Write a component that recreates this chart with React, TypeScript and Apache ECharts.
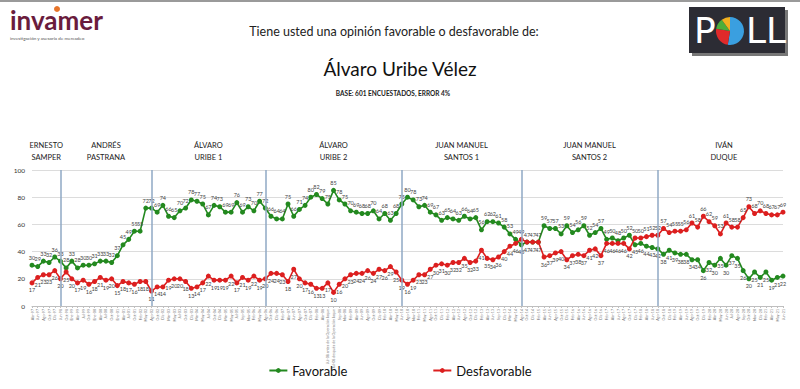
import React, { useEffect, useRef } from 'react';
import * as echarts from 'echarts';

// ---------- DATA ----------
const categories = [
  // Samper
  'Abr-97', 'Jun-97', 'Ago-97', 'Oct-97', 'Dic-97', 'Jun-98',
  // Pastrana
  'Oct-98', 'Ene-99', 'Abr-99', 'Jul-99', 'Oct-99', 'Ene-00', 'Abr-00', 'Jul-00', 'Oct-00', 'Ene-01', 'Abr-01', 'Jul-01', 'Oct-01', 'Feb-02', 'May-02',
  // Uribe 1
  'Ago-02', 'Oct-02', 'Dic-02', 'Mar-03', 'May-03', 'Jul-03', 'Oct-03', 'Dic-03', 'Mar-04', 'May-04', 'Jul-04', 'Oct-04', 'Dic-04', 'Mar-05', 'May-05', 'Jul-05', 'Sep-05', 'Nov-05', 'Feb-06', 'May-06',
  // Uribe 2
  'Ago-06', 'Oct-06', 'Dic-06', 'Feb-07', 'Abr-07', 'Jun-07', 'Ago-07', 'Oct-07', 'Dic-07', 'Feb-08', 'Abr-08',
  'Jul-08 antes de la Operación Jaque', 'Jul-08 después de la Operación Jaque',
  'Sep-08', 'Nov-08', 'Feb-09', 'Abr-09', 'Jun-09', 'Ago-09', 'Oct-09', 'Dic-09', 'Feb-10', 'Abr-10', 'May-10', 'Jun-10',
  // Santos 1
  'Ago-10', 'Nov-10', 'Feb-11', 'May-11', 'Ago-11', 'Oct-11', 'Dic-11', 'Feb-12', 'Abr-12', 'Jun-12', 'Ago-12', 'Oct-12', 'Dic-12', 'Feb-13', 'Abr-13', 'Jun-13', 'Sep-13', 'Dic-13', 'Mar-14', 'May-14',
  // Santos 2
  'Ago-14', 'Oct-14', 'Dic-14', 'Feb-15', 'Abr-15', 'Jun-15', 'Ago-15', 'Oct-15', 'Dic-15', 'Feb-16', 'Abr-16', 'Jun-16', 'Ago-16', 'Oct-16', 'Dic-16', 'Feb-17', 'Abr-17', 'Jun-17', 'Ago-17', 'Oct-17', 'Dic-17', 'Feb-18', 'Abr-18', 'Jun-18',
  // Duque
  'Ago-18', 'Oct-18', 'Dic-18', 'Feb-19', 'Abr-19', 'Jun-19', 'Ago-19', 'Oct-19', 'Dic-19', 'Feb-20', 'Abr-20', 'May-20', 'Jun-20', 'Jul-20', 'Ago-20', 'Sep-20', 'Oct-20', 'Nov-20', 'Dic-20', 'Feb-21', 'Abr-21', 'May-21', 'Jun-21',
];

const favorable = [
  30, 29, 33, 32, 36, 33,
  28, 33, 28, 30, 30, 31, 33, 33, 32, 37, 45, 49, 55, 55, 72,
  72, 69, 74, 66, 65, 70, 72, 78, 77, 75, 67, 74, 73, 69, 69, 76, 69, 73, 70, 77,
  72, 66, 64, 64, 75, 66, 71, 74, 80, 82, 79, 75, 85, 78, 75, 70, 69, 68, 68, 70, 64, 68, 63, 68, 75,
  80, 78, 73, 74, 69, 67, 63, 65, 64, 63, 66, 64, 65, 56, 62, 62, 61, 58, 53, 49,
  45, 47, 47, 47, 59, 57, 57, 53, 59, 54, 56, 59, 52, 54, 57, 49, 50, 48, 50, 52, 45, 46, 44, 43,
  42, 38, 41, 39, 38, 38, 34, 34, 26, 32, 30, 35, 30, 37, 35, 26, 20, 25, 21, 25, 19, 21, 22,
];

const desfavorable = [
  17, 21, 23, 23, 26, 20,
  25, 20, 17, 19, 16, 18, 21, 19, 20, 15, 18, 17, 16, 18, 18,
  11, 14, 14, 19, 20, 20, 18, 13, 14, 17, 22, 19, 19, 19, 22, 17, 21, 19, 22, 19,
  20, 24, 24, 23, 18, 27, 20, 17, 16, 13, 13, 17, 10, 16, 20, 23, 24, 24, 26, 24, 27, 26, 29, 25, 19,
  16, 19, 23, 23, 27, 30, 31, 30, 32, 32, 35, 32, 33, 41, 35, 34, 36, 40, 44, 46,
  49, 47, 47, 47, 36, 37, 39, 40, 34, 37, 38, 37, 41, 42, 37, 46, 46, 46, 46, 42, 50, 50, 51, 52,
  52, 57, 54, 55, 55, 56, 61, 58, 66, 62, 59, 53, 61, 58, 58, 65, 73, 68, 70, 68, 67, 67, 69,
];

const governments = [
  'ERNESTO\nSAMPER',
  'ANDRÉS\nPASTRANA',
  'ÁLVARO\nURIBE 1',
  'ÁLVARO\nURIBE 2',
  'JUAN MANUEL\nSANTOS 1',
  'JUAN MANUEL\nSANTOS 2',
  'IVÁN\nDUQUE',
];

// index of the poll where each government change line is drawn
const separators = [5, 21, 41, 65, 86, 110];

const GREEN = '#23891f';
const RED = '#dc1f1f';
const FONT = 'Lato, "Open Sans", sans-serif';

export default function App() {
  const ref = useRef<HTMLDivElement>(null);

  useEffect(() => {
    const chart = echarts.init(ref.current as HTMLDivElement, null, { renderer: 'svg' });

    const favData = favorable.map((v, i) => ({
      value: v,
      label: { position: v >= desfavorable[i] ? 'top' : 'bottom' },
    }));
    const desData = desfavorable.map((v, i) => ({
      value: v,
      label: { position: v > favorable[i] ? 'top' : 'bottom' },
    }));

    const labelStyle = {
      show: true,
      fontSize: 5.5,
      color: '#444',
      distance: 2,
      fontFamily: FONT,
    };

    chart.setOption({
      animation: false,
      backgroundColor: '#ffffff',
      grid: { left: 32, right: 17, top: 170, bottom: 83, containLabel: false },
      legend: {
        bottom: 7,
        left: 'center',
        itemGap: 85,
        itemWidth: 18,
        itemHeight: 6,
        textStyle: { fontSize: 13, color: '#111', fontFamily: FONT },
        data: ['Favorable', 'Desfavorable'],
      },
      xAxis: {
        type: 'category',
        data: categories,
        boundaryGap: false,
        axisLine: { lineStyle: { color: '#bfbfbf' } },
        axisTick: { show: true, interval: 0, length: 2, lineStyle: { color: '#bfbfbf' } },
        axisLabel: {
          interval: 0,
          rotate: 90,
          fontSize: 3.6,
          color: '#777',
          margin: 3,
          fontFamily: FONT,
        },
      },
      yAxis: {
        type: 'value',
        min: 0,
        max: 100,
        interval: 20,
        axisLine: { show: false },
        axisTick: { show: false },
        axisLabel: { fontSize: 6.5, color: '#333', margin: 7, fontFamily: FONT },
        splitLine: { lineStyle: { color: '#dcdcdc', width: 1 } },
      },
      series: [
        {
          name: 'Favorable',
          type: 'line',
          data: favData,
          color: GREEN,
          symbol: 'circle',
          symbolSize: 5,
          lineStyle: { width: 1.6, color: GREEN },
          itemStyle: { color: GREEN },
          label: labelStyle,
          z: 3,
          markLine: {
            silent: true,
            symbol: 'none',
            label: { show: false },
            lineStyle: { color: '#8fa8c4', width: 1.5, type: 'solid' },
            data: separators.map((s) => ({ xAxis: s })),
          },
        },
        {
          name: 'Desfavorable',
          type: 'line',
          data: desData,
          color: RED,
          symbol: 'circle',
          symbolSize: 5,
          lineStyle: { width: 1.6, color: RED },
          itemStyle: { color: RED },
          label: labelStyle,
          z: 4,
        },
      ],
    });

    // Segment titles centred between the government change lines
    const px = (i: number) => chart.convertToPixel({ xAxisIndex: 0 }, i) as number;
    const edges = [32, ...separators.map(px), 800 - 10];
    const segTitles = governments.map((g, k) => ({
      type: 'text',
      style: {
        text: g,
        x: (edges[k] + edges[k + 1]) / 2,
        y: 151,
        textAlign: 'center',
        textVerticalAlign: 'middle',
        fontSize: 7.5,
        lineHeight: 12,
        fill: '#222',
        fontFamily: FONT,
      },
    }));

    chart.setOption({
      graphic: {
        elements: [
          { type: 'line', shape: { x1: 0, y1: 1, x2: 800, y2: 1 }, style: { stroke: '#9a9a9a', lineWidth: 2 } },
          // invamer logo
          {
            type: 'text',
            style: {
              text: 'invamer',
              x: 10,
              y: 33,
              textVerticalAlign: 'bottom',
              fontSize: 26,
              fontWeight: 'bold',
              fill: '#6a1c3d',
              fontFamily: FONT,
            },
          },
          { type: 'circle', shape: { cx: 57, cy: 9, r: 3 }, style: { fill: '#e8752a' } },
          {
            type: 'text',
            style: {
              text: 'investigación y asesoría de mercadeo',
              x: 10,
              y: 35,
              textVerticalAlign: 'top',
              fontSize: 4.6,
              fill: '#555',
              fontFamily: FONT,
            },
          },
          // POLL logo
          { type: 'rect', shape: { x: 692, y: 10, width: 96, height: 46 }, style: { fill: '#777' } },
          { type: 'rect', shape: { x: 689, y: 7, width: 96, height: 46 }, style: { fill: '#2c2c34' } },
          {
            type: 'text',
            style: { text: 'P', x: 694, y: 30, textVerticalAlign: 'middle', fontSize: 36, fill: '#fff', fontFamily: '"DejaVu Sans", sans-serif' },
          },
          { type: 'sector', shape: { cx: 730, cy: 31, r0: 0, r: 14, startAngle: -Math.PI / 2, endAngle: Math.PI * 0.55 }, style: { fill: '#3a9fe0' } },
          { type: 'sector', shape: { cx: 730, cy: 31, r0: 0, r: 14, startAngle: Math.PI * 0.55, endAngle: Math.PI * 1.05 }, style: { fill: '#e02a2a' } },
          { type: 'sector', shape: { cx: 730, cy: 31, r0: 0, r: 14, startAngle: Math.PI * 1.05, endAngle: Math.PI * 1.3 }, style: { fill: '#4cae3a' } },
          { type: 'sector', shape: { cx: 730, cy: 31, r0: 0, r: 14, startAngle: Math.PI * 1.3, endAngle: Math.PI * 1.5 }, style: { fill: '#f0b020' } },
          {
            type: 'text',
            style: { text: 'LL', x: 746, y: 30, textVerticalAlign: 'middle', fontSize: 36, fill: '#fff', fontFamily: '"DejaVu Sans", sans-serif' },
          },
          // titles
          {
            type: 'text',
            style: {
              text: 'Tiene usted una opinión favorable o desfavorable de:',
              x: 394,
              y: 31,
              textAlign: 'center',
              textVerticalAlign: 'middle',
              fontSize: 12.5,
              fill: '#222',
              fontFamily: FONT,
            },
          },
          {
            type: 'text',
            style: {
              text: 'Álvaro Uribe Vélez',
              x: 400,
              y: 68,
              textAlign: 'center',
              textVerticalAlign: 'middle',
              fontSize: 19,
              fill: '#111',
              fontFamily: FONT,
            },
          },
          {
            type: 'text',
            style: {
              text: 'BASE: 601 ENCUESTADOS, ERROR 4%',
              x: 393,
              y: 93,
              textAlign: 'center',
              textVerticalAlign: 'middle',
              fontSize: 6.5,
              fontWeight: 'bold',
              fill: '#222',
              fontFamily: FONT,
            },
          },
          ...segTitles,
        ],
      },
    });

    return () => chart.dispose();
  }, []);

  return (
    <div
      ref={ref}
      style={{ position: 'fixed', left: 0, top: 0, width: 800, height: 389, background: '#fff' }}
    />
  );
}
